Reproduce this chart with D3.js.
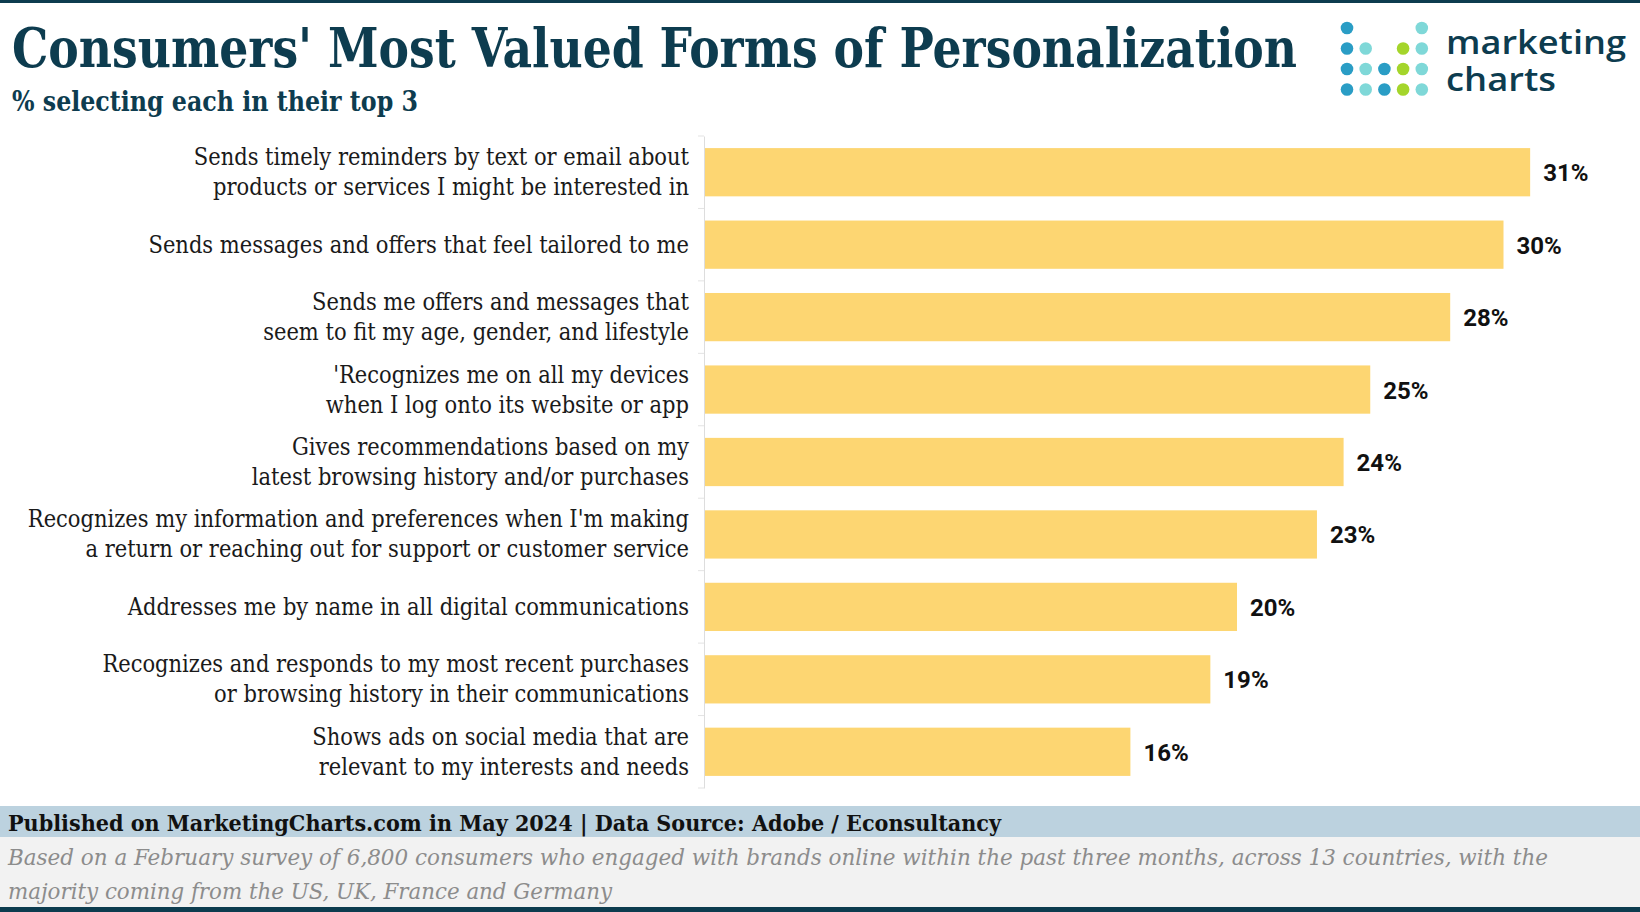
<!DOCTYPE html>
<html>
<head>
<meta charset="utf-8">
<script src="https://cdn.jsdelivr.net/npm/d3@7"></script>
<style>
  html, body { margin: 0; padding: 0; background: #fff; }
  svg { display: block; }
</style>
</head>
<body>
<svg id="chart" width="1640" height="912"></svg>
<script>
const categories = [
  ["Sends timely reminders by text or email about", "products or services I might be interested in"],
  ["Sends messages and offers that feel tailored to me"],
  ["Sends me offers and messages that", "seem to fit my age, gender, and lifestyle"],
  ["'Recognizes me on all my devices", "when I log onto its website or app"],
  ["Gives recommendations based on my", "latest browsing history and/or purchases"],
  ["Recognizes my information and preferences when I'm making", "a return or reaching out for support or customer service"],
  ["Addresses me by name in all digital communications"],
  ["Recognizes and responds to my most recent purchases", "or browsing history in their communications"],
  ["Shows ads on social media that are", "relevant to my interests and needs"]
];
const values = [31, 30, 28, 25, 24, 23, 20, 19, 16];
const titleText = "Consumers' Most Valued Forms of Personalization";
const subtitleText = "% selecting each in their top 3";
const sourceText = "Published on MarketingCharts.com in May 2024 | Data Source: Adobe / Econsultancy";
const noteLines = [
  "Based on a February survey of 6,800 consumers who engaged with brands online within the past three months, across 13 countries, with the",
  "majority coming from the US, UK, France and Germany"
];
const logoPattern = ["b...l", "bl.gl", "blbgl", "blbgl"];
const logoWords = ["marketing", "charts"];

const W = 1640, H = 912;
const dark = "#0d3c4f";
const svg = d3.select("#chart");
const serif = "'DejaVu Serif Condensed', 'DejaVu Serif', serif";

svg.append("rect").attr("x", 0).attr("y", 0).attr("width", W).attr("height", 3).attr("fill", dark);

function fitText(sel, w) {
  sel.attr("textLength", w).attr("lengthAdjust", "spacingAndGlyphs");
}

// Title
const t = svg.append("text").attr("x", 12).attr("y", 67)
  .attr("font-family", serif).attr("font-weight", "bold").attr("font-size", 54)
  .attr("fill", dark).text(titleText);
fitText(t, 1285);
const st = svg.append("text").attr("x", 12).attr("y", 111)
  .attr("font-family", serif).attr("font-weight", "bold").attr("font-size", 28)
  .attr("fill", dark).text(subtitleText);
fitText(st, 406);

// Logo
const logoColors = { b: "#2a9dc5", l: "#7fd8d8", g: "#a4d52b" };
const lg = svg.append("g").attr("transform", "translate(1347,28)");
logoPattern.forEach((row, r) => {
  row.split("").forEach((c, k) => {
    if (c === ".") return;
    lg.append("circle").attr("cx", k * 18.7).attr("cy", r * 20.5).attr("r", 6.3).attr("fill", logoColors[c]);
  });
});
const logoWidths = [180, 110];
const logoText = svg.append("text")
  .attr("font-family", "'Open Sans', sans-serif").attr("font-weight", 600).attr("font-size", 32)
  .attr("fill", dark);
logoWords.forEach((w, i) => {
  const ts = logoText.append("tspan").attr("x", 1446).attr("y", 54 + i * 37).text(w);
  fitText(ts, logoWidths[i]);
});

// Chart
const x = d3.scaleLinear().domain([0, 35]).range([704, 704 + 35 * 26.65]);
const y = d3.scaleBand().domain(d3.range(values.length)).range([136, 788])
  .paddingInner(0.334).paddingOuter(0.167);

const axisG = svg.append("g").attr("transform", "translate(704,0)")
  .call(d3.axisLeft(y).tickValues([]).tickSizeOuter(0));
axisG.select(".domain").attr("stroke", "#dddddd");
const bounds = d3.range(values.length + 1).map(i => 136 + i * y.step());
svg.append("g").selectAll("line").data(bounds).join("line")
  .attr("x1", 698).attr("x2", 704).attr("y1", d => d).attr("y2", d => d)
  .attr("stroke", "#e3e3e3").attr("stroke-width", 1);

svg.append("g").selectAll("rect").data(values).join("rect")
  .attr("x", x(0) + 1).attr("y", (d, i) => y(i))
  .attr("width", d => x(d) - x(0) - 1).attr("height", y.bandwidth())
  .attr("fill", "#fdd672");

svg.append("g").selectAll("text").data(values).join("text")
  .attr("x", d => x(d) + 13).attr("y", (d, i) => y(i) + y.bandwidth() / 2 + 9)
  .attr("font-family", "Roboto, sans-serif").attr("font-weight", "bold").attr("font-size", 24)
  .attr("fill", "#111").text(d => d + "%");

// category labels
const labelSize = 22;
const lab = svg.append("g");
categories.forEach((lines, i) => {
  const c = y(i) + y.bandwidth() / 2;
  lines.forEach((ln, j) => {
    const off = lines.length === 1 ? 8 : (j === 0 ? -7 : 23);
    lab.append("text").attr("x", 689).attr("y", c + off)
      .attr("text-anchor", "end")
      .attr("font-family", serif).attr("font-size", labelSize)
      .attr("fill", "#1a1a1a").text(ln);
  });
});
const ref = lab.selectAll("text").filter(function () { return this.textContent === categories[1][0]; });
const rl = ref.node().getComputedTextLength();
lab.selectAll("text").attr("font-size", labelSize * 541 / rl);

// Footer
svg.append("rect").attr("x", 0).attr("y", 806).attr("width", W).attr("height", 31).attr("fill", "#bcd2df");
svg.append("rect").attr("x", 0).attr("y", 837).attr("width", W).attr("height", 70).attr("fill", "#f2f2f2");
svg.append("rect").attr("x", 0).attr("y", 907).attr("width", W).attr("height", 5).attr("fill", dark);
const src = svg.append("text").attr("x", 8).attr("y", 831)
  .attr("font-family", serif).attr("font-weight", "bold").attr("font-size", 23)
  .attr("fill", "#111").text(sourceText);
fitText(src, 993);
const nw = [1540, 604];
noteLines.forEach((ln, i) => {
  const n = svg.append("text").attr("x", 8).attr("y", 865 + i * 34)
    .attr("font-family", serif).attr("font-style", "italic").attr("font-size", 22)
    .attr("fill", "#8c8c8c").text(ln);
  fitText(n, nw[i]);
});
</script>
</body>
</html>
